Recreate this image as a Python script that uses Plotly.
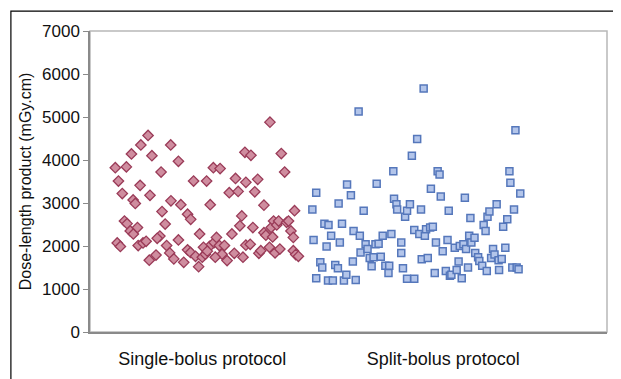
import plotly.graph_objects as go

# Single-bolus protocol: horizontal jitter position (category 1 centre = 1) and DLP values
single_x = [0.639, 0.652, 0.668, 0.685, 0.647, 0.660, 0.706, 0.713, 0.722, 0.677, 0.688, 0.701, 0.714, 0.731,
            0.742, 0.745, 0.775, 0.791, 0.783, 0.829, 0.833, 0.824, 0.813, 0.846, 0.869, 0.870, 0.734, 0.901,
            0.911, 0.754, 0.767, 0.780, 0.808, 0.852, 0.865, 0.882, 0.901, 0.923, 0.939, 0.952, 0.939, 0.951,
            0.972, 0.964, 0.989, 0.985, 1.000, 1.018, 1.033, 1.046, 1.074, 1.030, 1.049, 1.059, 1.071, 1.082,
            1.054, 1.013, 1.005, 1.021, 1.112, 1.138, 1.149, 1.181, 1.230, 1.218, 1.092, 1.103, 1.123, 1.133,
            1.156, 1.164, 1.169, 1.181, 1.199, 1.210, 1.235, 1.243, 1.177, 1.202, 1.256, 1.281, 1.256, 1.264,
            1.286, 1.296, 1.309, 1.317, 1.328, 1.342, 1.350, 1.358, 1.368, 1.378, 1.383, 1.378, 1.388, 1.399,
            1.279, 1.302, 1.322, 1.292]
single_y = [3820, 3510, 3220, 3840, 2070, 1990, 4140, 3070, 2990, 2580, 2520, 2350, 2280, 2430,
            3410, 4350, 4570, 4100, 3180, 3720, 2800, 2230, 2180, 2510, 4350, 3050, 2010, 3970,
            2960, 2070, 2110, 1670, 1790, 2010, 1840, 1700, 2140, 1620, 2740, 2620, 1910, 1850,
            1760, 3510, 2280, 1520, 1740, 3510, 2960, 3820, 3800, 1990, 2080, 2200, 2010, 1810,
            1740, 1810, 1970, 1880, 3240, 3570, 3270, 3480, 3550, 3260, 2010, 1660, 2280, 1830,
            2470, 2700, 1740, 2020, 2040, 2430, 1830, 1890, 4180, 4110, 2950, 4880, 2310, 2250,
            2430, 2580, 2490, 2580, 4150, 3720, 2550, 2580, 2350, 2200, 2820, 1890, 1800, 1760,
            1970, 1840, 1930, 2210]

# Split-bolus protocol: horizontal jitter position (category 2 centre = 2) and DLP values
split_x = [1.457, 1.473, 1.462, 1.473, 1.490, 1.498, 1.507, 1.524, 1.516, 1.535, 1.522, 1.542, 1.552,
           1.563, 1.566, 1.571, 1.580, 1.588, 1.601, 1.598, 1.617, 1.625, 1.628, 1.637, 1.649, 1.654,
           1.657, 1.670, 1.678, 1.686, 1.695, 1.703, 1.711, 1.724, 1.719, 1.732, 1.741, 1.749, 1.760,
           1.773, 1.776, 1.785, 1.793, 1.796, 1.806, 1.809, 1.826, 1.826, 1.833, 1.842, 1.850, 1.850,
           1.862, 1.870, 1.880, 1.880, 1.892, 1.901, 1.908, 1.911, 1.919, 1.924, 1.929, 1.936, 1.946,
           1.949, 1.957, 1.970, 1.965, 1.977, 1.985, 1.990, 1.998, 2.011, 2.018, 2.023, 2.028, 2.034,
           2.048, 2.056, 2.064, 2.069, 2.077, 2.084, 2.090, 2.095, 2.103, 2.108, 2.113, 2.117, 2.130,
           2.133, 2.145, 2.150, 2.162, 2.168, 2.176, 2.181, 2.184, 2.192, 2.199, 2.207, 2.213, 2.222,
           2.230, 2.232, 2.243, 2.249, 2.258, 2.266, 2.275, 2.279, 2.287, 2.294, 2.300, 2.305, 2.313,
           2.320]
split_y = [2850, 3240, 2140, 1250, 1620, 1500, 2520, 2490, 1990, 2240, 1200, 1200, 1560,
           1480, 2990, 2080, 2520, 1200, 3430, 1330, 3180, 1640, 2350, 1210, 5130, 2240,
           1850, 2820, 2040, 1930, 1720, 1530, 1740, 3450, 2040, 2050, 1750, 2240, 1540,
           1370, 1540, 2280, 3740, 3100, 2970, 2850, 2080, 1840, 1480, 2680, 2820, 1240,
           2970, 4100, 1240, 2370, 4490, 2280, 2850, 1690, 5660, 2240, 2390, 1720, 2430,
           3330, 2450, 2080, 1370, 3740, 3660, 3150, 1880, 1420, 2140, 2820, 1310, 1330,
           1960, 1440, 1640, 2000, 1250, 2040, 3120, 1930, 1500, 2240, 2650, 2080, 2190,
           1840, 1740, 1650, 1540, 2490, 2350, 1420, 2680, 2800, 1720, 1930, 1800, 2970,
           1670, 1440, 1700, 2450, 1960, 2620, 3740, 3470, 1500, 2850, 4690, 1500, 1460,
           3220]

categories = ["Single-bolus protocol", "Split-bolus protocol"]
category_pos = [1, 2]
y_ticks = [0, 1000, 2000, 3000, 4000, 5000, 6000, 7000]

FONT = "Liberation Sans, Arial, sans-serif"

fig = go.Figure()
fig.add_trace(go.Scatter(
    x=single_x, y=single_y, mode="markers", name=categories[0],
    marker=dict(symbol="diamond", size=8, color="#cf8d9f",
                line=dict(color="#9a3b58", width=1.3)),
))
fig.add_trace(go.Scatter(
    x=split_x, y=split_y, mode="markers", name=categories[1],
    marker=dict(symbol="square", size=7, color="#b3c5ea",
                line=dict(color="#5577bb", width=1.5)),
))

fig.update_layout(
    width=621, height=379,
    margin=dict(l=82, r=22, t=23, b=55),
    paper_bgcolor="white", plot_bgcolor="white",
    showlegend=False,
    font=dict(family=FONT, size=16, color="#111111"),
    xaxis=dict(range=[0.534, 2.68], tickvals=category_pos, ticktext=categories,
               showgrid=False, zeroline=False, showline=True, linecolor="#8a8a8a",
               linewidth=1.5, mirror=False, ticks="", ticklabelstandoff=10,
               tickfont=dict(size=18)),
    yaxis=dict(range=[0, 7000], tickvals=y_ticks, showgrid=False, zeroline=False,
               showline=True, linecolor="#8a8a8a", linewidth=1.5, mirror=False,
               ticks="outside", ticklen=5, tickcolor="#8a8a8a", tickwidth=1.2,
               tickfont=dict(size=17),
               title=dict(text="Dose-length product (mGy.cm)", font=dict(size=16), standoff=6)),
)

# light grey frame of the plot area (top and right sides)
fig.add_shape(type="rect", xref="paper", yref="paper", x0=0, x1=1, y0=0, y1=1,
              line=dict(color="#b8b8b8", width=1.5), fillcolor="rgba(0,0,0,0)", layer="below")

# outer black frame around the figure
fig.add_shape(type="rect", xref="paper", yref="paper",
              x0=-0.153, x1=1.017, y0=-0.3, y1=1.066,
              line=dict(color="black", width=1.2), fillcolor="rgba(0,0,0,0)", layer="above")

fig.write_html("out.html")
